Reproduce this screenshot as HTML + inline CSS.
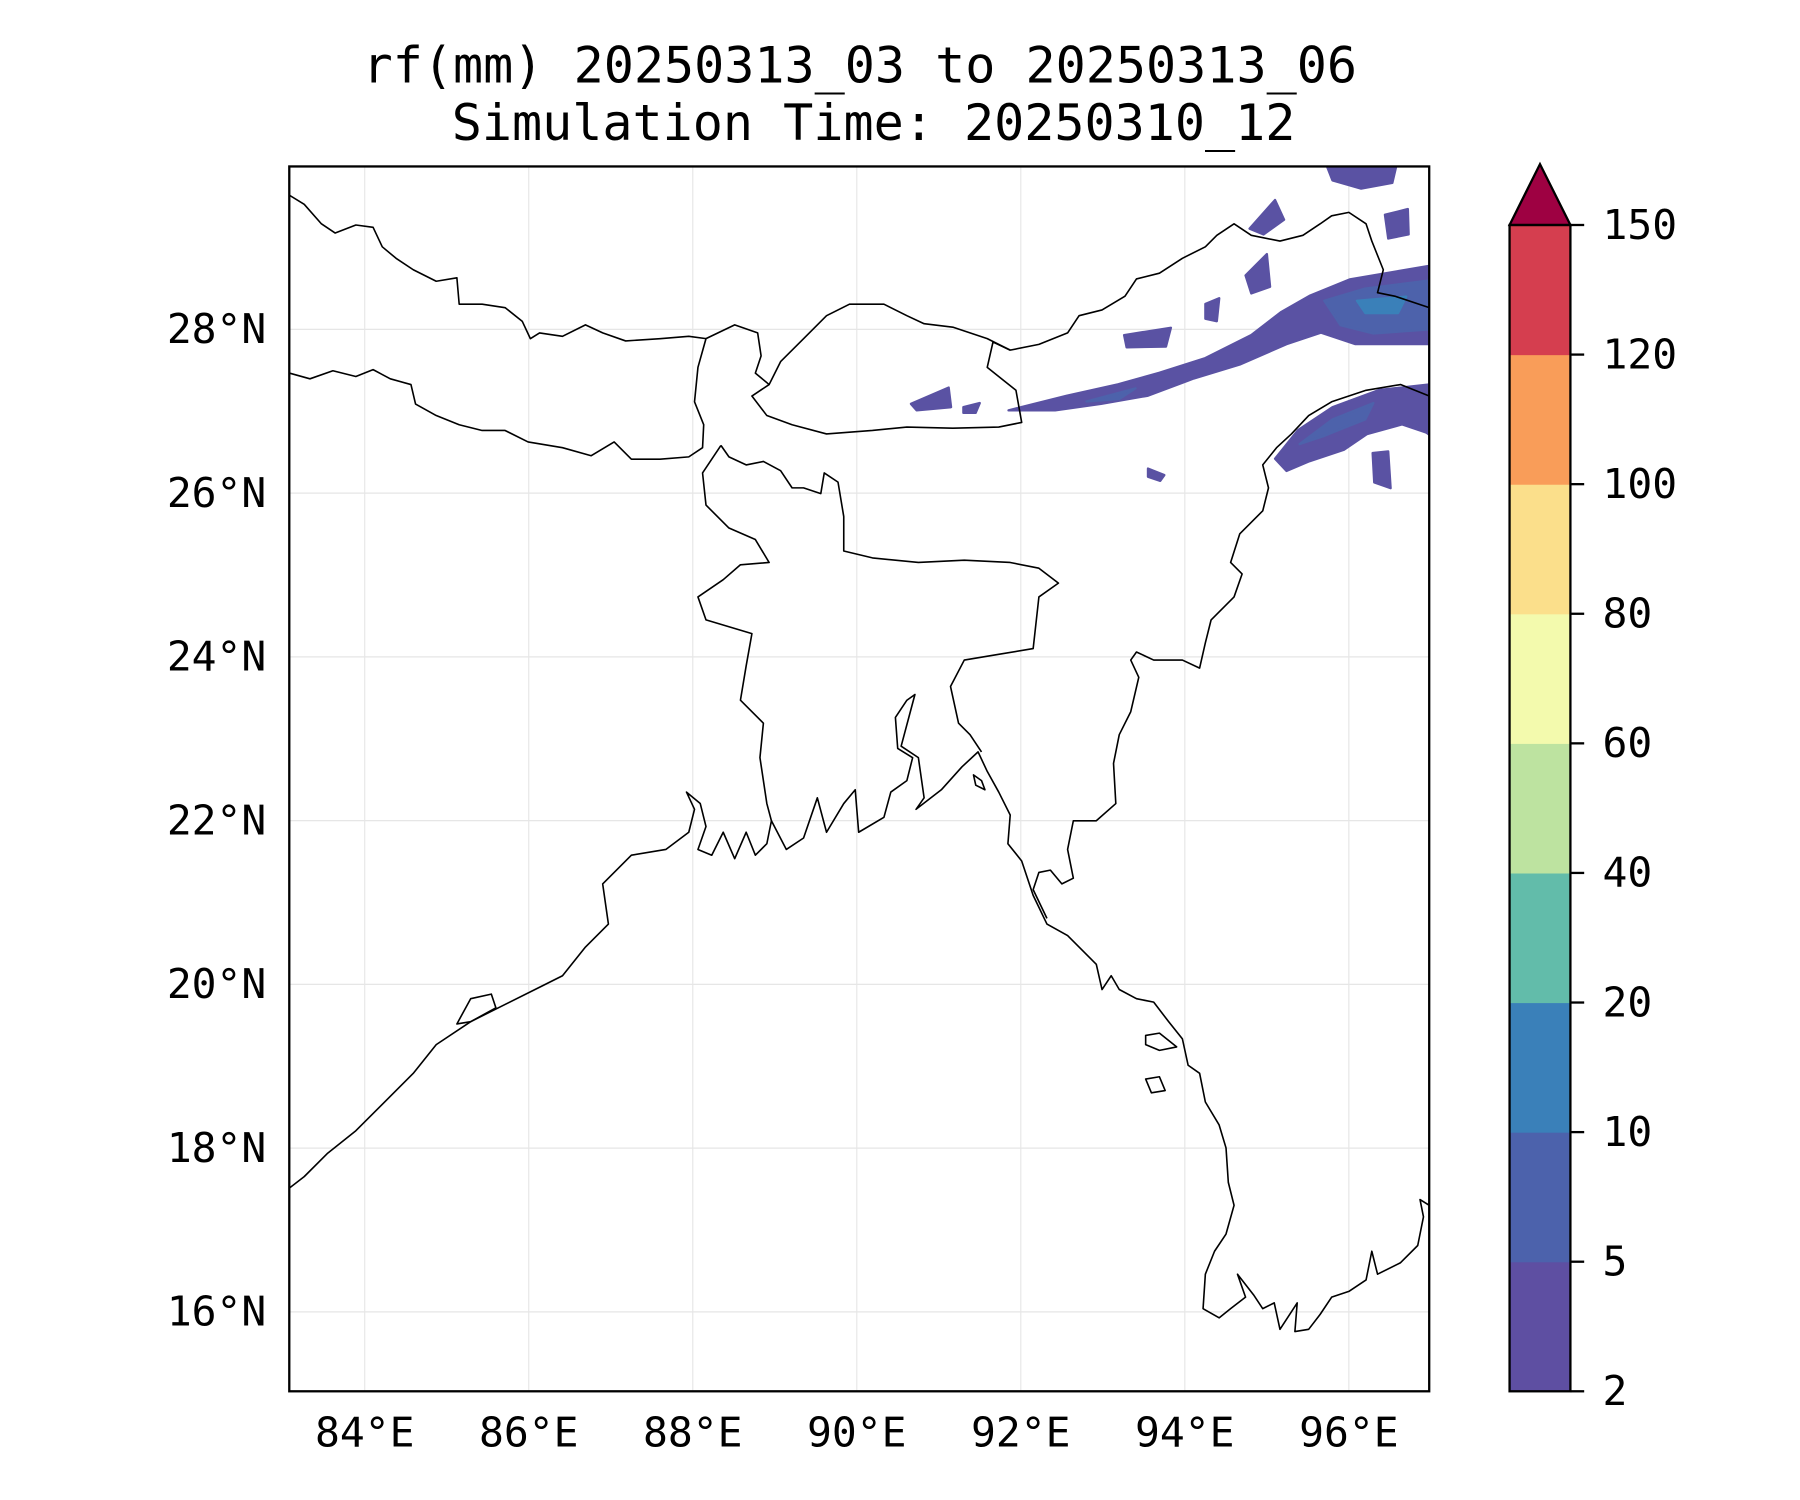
<!DOCTYPE html>
<html><head><meta charset="utf-8"><style>
html,body{margin:0;padding:0;background:#fff}
svg{display:block}
text{font-family:"DejaVu Sans Mono","Liberation Mono",monospace;fill:#000}
</style></head><body>
<svg id="chart" width="1800" height="1500" viewBox="0 0 1568 1306.7" preserveAspectRatio="none" xmlns="http://www.w3.org/2000/svg">
<rect width="1568" height="1307" fill="#fff"/>
<text x="749" y="72" font-size="43.6" text-anchor="middle">rf(mm) 20250313_03 to 20250313_06</text>
<text x="761" y="122" font-size="43.6" text-anchor="middle">Simulation Time: 20250310_12</text>
<defs><clipPath id="ax"><rect x="252" y="145" width="993" height="1067"/></clipPath></defs>
<g id="grid"></g>
<g id="rain" clip-path="url(#ax)"></g>
<g id="coast" clip-path="url(#ax)" fill="none" stroke="#000" stroke-width="1.4" stroke-linejoin="round">
<path d="M252,170 L265,178 280,195 292,203 310,196 325,198 333,215 345,225 360,235 380,245 398,242 400,265 420,265 440,268 455,280 462,295 470,290 490,293 510,283 525,290 545,297 575,295 600,293 615,295"/>
<path d="M252,325 L270,330 290,323 310,328 325,322 340,330 358,335 362,352 380,362 400,370 420,375 440,375 460,385 490,390 515,397 535,385 550,400 575,400 600,398 612,390 613,370 605,350 608,320 615,295 640,283 660,290 663,310 658,325 670,335 655,345 668,362 690,370 720,378 760,375 790,372 830,373 870,372 890,368 885,340 860,320 865,298 880,305"/>
<path d="M670,335 L680,315 700,295 720,275 740,265 770,265 790,275 805,282 830,285 860,295 880,305 905,300 930,290 940,275 960,270 980,258 990,243 1010,238 1030,225 1050,215 1060,205 1075,195 1090,205 1115,210 1135,205 1150,195 1160,188 1175,185 1190,195 1195,210 1205,235 1200,255 1215,258 1245,268"/>
<path d="M1245,345 L1220,335 1190,340 1160,350 1140,362 1125,378 1112,390 1100,405 1105,425 1100,445 1080,465 1072,490 1082,500 1075,520 1055,540 1050,560 1045,582 1030,575 1005,575 990,568 985,575 992,590 985,620 975,640 970,665 972,700 955,715 935,715 930,740 935,765 925,770 915,758 905,760 900,775 912,800"/>
<path d="M628,388 L635,398 650,405 665,402 680,410 690,425 700,425 715,430 718,412 730,420 735,450 735,480 760,486 800,490 840,488 880,490 905,495 922,508 905,520 900,565 870,570 840,575 828,598 835,630 845,640 855,655"/>
<path d="M628,388 L612,412 615,440 635,460 658,470 670,490 645,492 630,505 608,520 615,540 655,552 650,580 645,610 665,630 662,660 668,700 672,715"/>
<path d="M252,1035 L265,1025 285,1005 310,985 335,960 360,935 380,910 410,890 440,875 470,860 490,850 510,825 530,805 525,770 550,745 580,740 600,725 605,705 598,690 610,700 615,720 608,740 620,745 630,725 640,748 650,725 658,745 668,735 672,715 685,740 700,730 712,695 720,725 735,700 745,688 748,725 770,712 776,690 790,680 795,660 782,652 780,625 790,610 797,605 785,650 800,660 805,695 798,705 820,688 838,668 852,655 860,672 870,690 880,710 878,735 890,750 900,780 912,805 930,815 945,830 955,840 960,862 968,850 975,862 990,870 1005,873 1018,890 1030,905 1035,928 1045,935 1050,960 1062,980 1068,1000 1070,1030 1075,1050 1068,1075 1058,1090 1050,1110 1048,1140 1062,1148 1072,1140 1085,1130 1078,1110 1092,1128 1100,1140 1110,1135 1115,1158 1130,1135 1128,1160 1140,1158 1150,1145 1160,1130 1175,1125 1190,1115 1195,1090 1200,1110 1220,1100 1235,1085 1240,1060 1237,1045 1245,1050"/>
<path d="M398,892 L410,870 428,866 432,878 410,890 Z"/>
<path d="M998,902 L1010,900 1025,912 1010,915 998,910 Z"/>
<path d="M998,940 L1010,938 1015,950 1003,952 Z"/>
<path d="M848,675 L855,680 858,688 850,684 Z"/>
</g>
<rect x="252" y="145" width="993" height="1067" fill="none" stroke="#000" stroke-width="2"/>
<g id="axes"></g>
<g id="cbar"></g>
</svg>
<script>
const NS='http://www.w3.org/2000/svg';
const lonTicks=[84,86,88,90,92,94,96];
const latTicks=[16,18,20,22,24,26,28];
const cbLevels=[2,5,10,20,40,60,80,100,120,150];
const cbColors=['#5e4fa2','#4c62ac','#3a80b9','#62bcaa','#bde3a0','#f3faad','#fbdf8b','#f99d59','#d53e4f'];
const extendColor='#9e0142';
const rainLevelColors=['#5a52a3','#4d62ab','#3a80b9'];
const rainBlobs=[
 {lev:0,pts:[[91.85,27.01],[92.56,27.19],[93.19,27.33],[93.69,27.47],[94.25,27.65],[94.81,27.93],[95.17,28.21],[95.52,28.41],[96.01,28.61],[97.0,28.78],[97.0,27.82],[96.51,27.82],[96.08,27.82],[95.66,27.96],[95.24,27.82],[94.67,27.57],[94.11,27.40],[93.55,27.19],[92.98,27.09],[92.42,27.01]]},
 {lev:1,pts:[[95.7,28.35],[96.2,28.5],[97,28.6],[97,28.0],[96.3,27.95],[95.9,28.05]]},
 {lev:1,pts:[[92.8,27.12],[93.4,27.28],[93.2,27.15]]},
 {lev:2,pts:[[96.1,28.35],[96.7,28.4],[96.6,28.2],[96.2,28.2]]},
 {lev:0,pts:[[95.10,26.42],[95.38,26.77],[95.80,27.05],[96.37,27.26],[97,27.33],[97,26.72],[96.65,26.84],[96.22,26.72],[95.94,26.53],[95.52,26.39],[95.24,26.27]]},
 {lev:1,pts:[[95.4,26.6],[95.8,26.9],[96.3,27.1],[96.2,26.9],[95.7,26.7]]},
 {lev:0,pts:[[95.73,30],[96.58,30],[96.53,29.79],[96.15,29.72],[95.80,29.82]]},
 {lev:0,pts:[[94.79,29.23],[95.10,29.58],[95.21,29.34],[94.96,29.16]]},
 {lev:0,pts:[[93.26,27.93],[93.83,28.02],[93.77,27.79],[93.29,27.78]]},
 {lev:0,pts:[[90.66,27.09],[91.12,27.29],[91.15,27.05],[90.73,27.01]]},
 {lev:0,pts:[[96.29,26.49],[96.48,26.51],[96.51,26.06],[96.31,26.13]]},
 {lev:0,pts:[[96.44,29.40],[96.72,29.47],[96.73,29.16],[96.48,29.11]]},
 {lev:0,pts:[[94.74,28.66],[95.0,28.92],[95.04,28.52],[94.81,28.44]]},
 {lev:0,pts:[[94.25,28.31],[94.42,28.38],[94.39,28.10],[94.25,28.13]]},
 {lev:0,pts:[[96.58,27.12],[97,27.19],[97,26.70],[96.72,26.91]]},
 {lev:0,pts:[[91.3,27.05],[91.5,27.1],[91.45,26.98],[91.3,26.98]]},
 {lev:0,pts:[[93.55,26.3],[93.75,26.22],[93.7,26.15],[93.55,26.2]]}
];
const X0=252,X1=1245,Y0=145,Y1=1212,LON0=83.08,LON1=96.98,LAT0=15.03,LAT1=29.99;
const xScale=lon=>X0+(lon-LON0)/(LON1-LON0)*(X1-X0);
const yScale=lat=>Y1-(lat-LAT0)/(LAT1-LAT0)*(Y1-Y0);
function mk(tag,attrs,parent){const e=document.createElementNS(NS,tag);for(const k in attrs)e.setAttribute(k,attrs[k]);parent.appendChild(e);return e;}
const grid=document.getElementById('grid'),axes=document.getElementById('axes'),rain=document.getElementById('rain'),cbar=document.getElementById('cbar');
lonTicks.forEach(v=>{const x=xScale(v);
 let l=mk('line',{x1:x,x2:x,y1:Y0,y2:Y1,stroke:'#e6e6e6','stroke-width':1},grid);
 
 
 let t=mk('text',{x:x,y:Y1+48,'font-size':36,'text-anchor':'middle'},axes);t.textContent=v+'°E';
 
 
});
latTicks.forEach(v=>{const y=yScale(v);
 let l=mk('line',{x1:X0,x2:X1,y1:y,y2:y,stroke:'#e6e6e6','stroke-width':1},grid);
 
 
 let t=mk('text',{x:232,y:y+12,'font-size':36,'text-anchor':'end'},axes);t.textContent=v+'°N';
 
 
});
rainBlobs.forEach(b=>{
 const d='M'+b.pts.map(p=>xScale(p[0]).toFixed(1)+','+yScale(p[1]).toFixed(1)).join(' L')+' Z';
 let p=mk('path',{d:d,fill:rainLevelColors[b.lev],stroke:rainLevelColors[b.lev],'stroke-width':2,'stroke-linejoin':'round'},rain);
 
 
});
const CX0=1315,CX1=1368,CT=196,CB=1212,n=cbLevels.length-1,h=(CB-CT)/n;
cbColors.forEach((c,i)=>{
 let r=mk('rect',{x:CX0,y:CB-(i+1)*h,width:CX1-CX0,height:h+0.5,fill:c},cbar);
 
 
});
let tri=mk('polygon',{points:`${CX0},${CT} ${(CX0+CX1)/2},143 ${CX1},${CT}`,fill:extendColor,stroke:'#000','stroke-width':2},cbar);


let fr=mk('rect',{x:CX0,y:CT,width:CX1-CX0,height:CB-CT,fill:'none',stroke:'#000','stroke-width':2},cbar);


cbLevels.forEach((v,i)=>{const y=CB-i*h;
 let l=mk('line',{x1:CX1,x2:CX1+12,y1:y,y2:y,stroke:'#000','stroke-width':2},cbar);
 
 
 let t=mk('text',{x:CX1+28,y:y+12,'font-size':36},cbar);t.textContent=v;
 
 
});
</script>
</body></html>
